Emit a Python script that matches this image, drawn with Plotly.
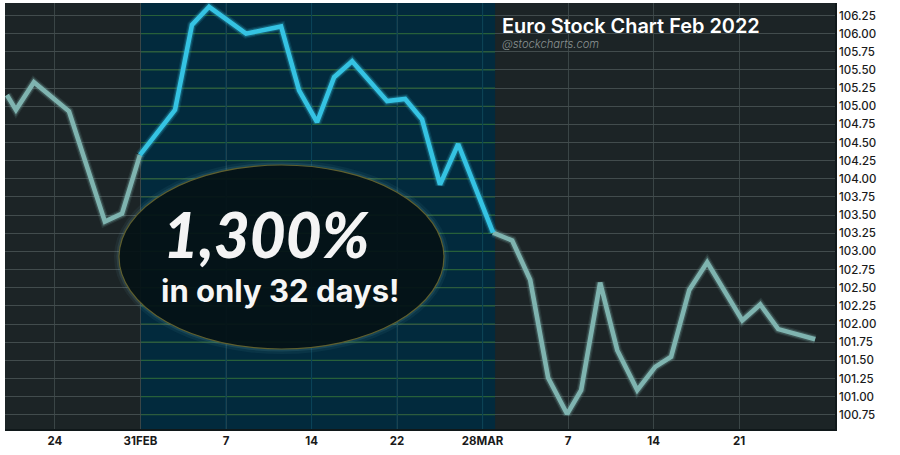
"""Euro Stock Chart Feb 2022, rebuilt with Plotly."""
import plotly.graph_objects as go

# sessions counted from the "24" tick, five sessions between x ticks
sessions = [-2.81, -2.28, -1.23, 0.82, 2.92, 3.92, 4.97, 7.02, 8.01, 9.01, 11.17, 13.22, 14.27,
            15.32, 16.32, 17.37, 19.42, 20.47, 21.46, 22.51, 23.57, 25.61, 26.73, 27.78, 28.83,
            29.94, 30.76, 31.87, 32.87, 34.04, 35.09, 36.02, 37.08, 38.13, 40.18, 41.23, 42.28, 44.44]
prices = [105.155, 104.95, 105.33, 104.93, 103.41, 103.52, 104.33, 104.95, 106.12, 106.37, 106.0,
          106.1, 105.22, 104.78, 105.4, 105.62, 105.07, 105.1, 104.82, 103.92, 104.48, 103.26,
          103.15, 102.61, 101.26, 100.76, 101.09, 102.57, 101.64, 101.09, 101.41, 101.55, 102.47,
          102.85, 102.05, 102.27, 101.93, 101.79]

x_ticks = [0, 5, 10, 15, 20, 25, 30, 35, 40]
x_labels = ["24", "31FEB", "7", "14", "22", "28MAR", "7", "14", "21"]
y_ticks = [100.75 + 0.25 * i for i in range(23)]
y_labels = [f"{v:.2f}" for v in y_ticks]

# the run highlighted in blue
run_start, run_end = 5.03, 25.73
i0, i1 = 6, 21

BG = "#1c2426"
RUN_BG = "#022a3d"
GREY = "#7fb4b0"
CYAN = "#35c3e3"


def add_line(fig, xs, ys, color):
    # wide faint strokes underneath give the glow
    fig.add_scatter(x=xs, y=ys, mode="lines", line=dict(color=color, width=9.5), opacity=0.12,
                    hoverinfo="skip")
    fig.add_scatter(x=xs, y=ys, mode="lines", line=dict(color=color, width=7), opacity=0.25,
                    hoverinfo="skip")
    fig.add_scatter(x=xs, y=ys, mode="lines", line=dict(color=color, width=4.6))


fig = go.Figure()

# grid colours change inside the highlighted run
h_x, h_y = [], []
for v in y_ticks:
    h_x += [run_start, run_end, None]
    h_y += [v, v, None]
fig.add_scatter(x=h_x, y=h_y, mode="lines", line=dict(color="#27603a", width=1.2), hoverinfo="skip")

v_x, v_y = [], []
for t in x_ticks:
    if run_start < t < run_end:
        v_x += [t, t, None]
        v_y += [100.554, 106.422, None]
fig.add_scatter(x=v_x, y=v_y, mode="lines", line=dict(color="#0a4257", width=1.1), hoverinfo="skip")

add_line(fig, sessions[:i0 + 1], prices[:i0 + 1], GREY)
add_line(fig, sessions[i1:], prices[i1:], GREY)
add_line(fig, sessions[i0:i1 + 1], prices[i0:i1 + 1], CYAN)

fig.add_shape(type="rect", xref="x", yref="paper", x0=run_start, x1=run_end, y0=0, y1=1,
              fillcolor=RUN_BG, line_width=0, layer="between")


# oval callout, paper coordinates
def ellipse(grow, **kw):
    fig.add_shape(type="circle", xref="paper", yref="paper",
                  x0=(119 - grow - 5) / 830, x1=(444 + grow - 5) / 830,
                  y0=(429 - 349 - grow) / 426, y1=(429 - 165 + grow) / 426, layer="above", **kw)


ellipse(5, fillcolor="rgba(120,190,200,0.07)", line_width=0)
ellipse(2.5, fillcolor="rgba(120,190,200,0.12)", line_width=0)
ellipse(0, fillcolor="rgba(2,14,18,0.9)", line=dict(color="#5f5f2e", width=1.2))

fig.add_annotation(text="1,300%", xref="paper", yref="paper", x=(266 - 5) / 830, y=(429 - 234) / 426,
                   xanchor="center", yanchor="middle", showarrow=False,
                   font=dict(family="Lato", size=62, color="#f4f4f4", weight=900, style="italic"))
fig.add_annotation(text="in only 32 days!", xref="paper", yref="paper", x=(280 - 5) / 830, y=(429 - 290) / 426,
                   xanchor="center", yanchor="middle", showarrow=False,
                   font=dict(family="Inter", size=31, color="#f6f6f6", weight=700))
fig.add_annotation(text="Euro Stock Chart Feb 2022", xref="paper", yref="paper", x=(502 - 5) / 830,
                   y=(429 - 26) / 426, xanchor="left", yanchor="middle", xshift=-2, showarrow=False,
                   font=dict(family="Inter", size=19.9, color="#ffffff", weight=600))
fig.add_annotation(text="@stockcharts.com", xref="paper", yref="paper", x=(502 - 5) / 830,
                   y=(429 - 44) / 426, xanchor="left", yanchor="middle", xshift=-2, showarrow=False,
                   font=dict(family="Inter", size=11.2, color="#8a9292", weight=300, style="italic"))

fig.update_xaxes(range=[-2.92, 45.6], tickvals=x_ticks, ticktext=x_labels, showgrid=True,
                 gridcolor="#3a4546", gridwidth=1, zeroline=False, ticks="", showline=True,
                 linecolor="#10181a", linewidth=1.5,
                 tickfont=dict(family="Inter", size=11.5, color="#1a1a1a", weight=700))
fig.update_yaxes(range=[100.554, 106.422], side="right", tickvals=y_ticks, ticktext=y_labels,
                 showgrid=True, gridcolor="#424c4d", gridwidth=1.2, zeroline=False, ticks="",
                 showline=True, linecolor="#10181a", linewidth=1.5,
                 tickfont=dict(family="Inter", size=11.5, color="#1a1a1a", weight=500))
fig.update_layout(width=900, height=455, margin=dict(l=5, r=65, t=3, b=26), showlegend=False,
                  plot_bgcolor=BG, paper_bgcolor="#ffffff")

# the page's default body margin would push the figure 8px in
fig.write_html("out.html", post_script="document.body.style.margin='0';",
               config={"displayModeBar": False})
